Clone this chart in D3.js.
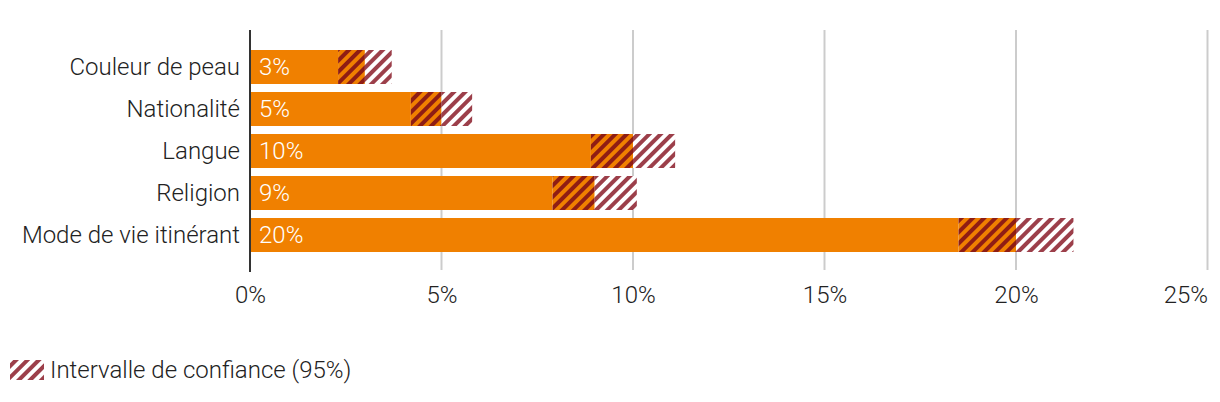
<!DOCTYPE html>
<html><head><meta charset="utf-8">
<script src="https://cdn.jsdelivr.net/npm/d3@7"></script>
<style>
body{margin:0;background:#fff;}
text{font-family:Roboto,sans-serif;font-weight:300;}
</style></head>
<body>
<svg id="c" width="1220" height="402"></svg>
<script>
const categories = ["Couleur de peau","Nationalité","Langue","Religion","Mode de vie itinérant"];
const values = [3.0, 5.0, 10.0, 9.0, 20.0];
const labels = ["3%","5%","10%","9%","20%"];
const ciLow = [2.3, 4.2, 8.9, 7.9, 18.5];
const ciHigh = [3.7, 5.8, 11.1, 10.1, 21.5];
const xTicks = [0,5,10,15,20,25];
const legendLabel = "Intervalle de confiance (95%)";

const FS = 24;
const svg = d3.select("#c");
const defs = svg.append("defs");
function hatch(id, bg, fg){
  const p = defs.append("pattern").attr("id", id).attr("patternUnits","userSpaceOnUse")
    .attr("width", 8).attr("height", 8).attr("patternTransform","rotate(45)");
  if (bg) p.append("rect").attr("width",8).attr("height",8).attr("fill",bg);
  p.append("rect").attr("x",0).attr("y",0).attr("width",4).attr("height",8).attr("fill",fg);
}
hatch("hOr", "#f08000", "#8f1d14");
hatch("hWh", "#ffffff", "#9c3f4a");

const x = d3.scaleLinear().domain([0,25]).range([250,1207.5]);
const y = d3.scaleBand().domain(categories).range([50,252]).paddingInner(8/42).paddingOuter(0);

// gridlines
svg.append("g").selectAll("line").data(xTicks.slice(1)).join("line")
  .attr("x1", d=>x(d)).attr("x2", d=>x(d)).attr("y1",30).attr("y2",270)
  .attr("stroke","#cccccc").attr("stroke-width",2);

const g = svg.append("g");
g.selectAll("rect.s").data(categories).join("rect")
  .attr("x", x(0)+1).attr("y", d=>y(d)).attr("height", y.bandwidth())
  .attr("width", (d,i)=>x(ciLow[i])-x(0)-1).attr("fill","#f08000");
g.selectAll("rect.h1").data(categories).join("rect")
  .attr("x", (d,i)=>x(ciLow[i])).attr("y", d=>y(d)).attr("height", y.bandwidth())
  .attr("width", (d,i)=>x(values[i])-x(ciLow[i])).attr("fill","url(#hOr)");
g.selectAll("rect.h2").data(categories).join("rect")
  .attr("x", (d,i)=>x(values[i])).attr("y", d=>y(d)).attr("height", y.bandwidth())
  .attr("width", (d,i)=>x(ciHigh[i])-x(values[i])).attr("fill","url(#hWh)");
g.selectAll("text.v").data(categories).join("text")
  .attr("x", x(0)+9).attr("y", d=>y(d)+y.bandwidth()/2).attr("dy","0.35em")
  .attr("fill","#fff").attr("font-size",FS).text((d,i)=>labels[i]);

// y axis
const ya = svg.append("g").attr("transform",`translate(${x(0)},0)`)
  .call(d3.axisLeft(y).tickSize(0).tickPadding(10));
ya.select(".domain").remove();
ya.selectAll("text").attr("font-size",FS).attr("fill","#222").style("font-family","Roboto").style("font-weight",300);
svg.append("line").attr("x1",x(0)).attr("x2",x(0)).attr("y1",30).attr("y2",272)
  .attr("stroke","#333").attr("stroke-width",2);

// x axis
const xa = svg.append("g").attr("transform","translate(0,272)")
  .call(d3.axisBottom(x).tickValues(xTicks).tickSize(0).tickPadding(14).tickFormat(d=>d+"%"));
xa.select(".domain").remove();
xa.selectAll("text").attr("font-size",FS).attr("fill","#222").style("font-family","Roboto").style("font-weight",300)
  .attr("text-anchor", d=> d===25 ? "end" : "middle");

// legend
svg.append("rect").attr("x",10).attr("y",360).attr("width",34).attr("height",20).attr("fill","url(#hWh)");
svg.append("text").attr("x",50).attr("y",370).attr("dy","0.35em").attr("font-size",FS).attr("fill","#222").text(legendLabel);
</script>
</body></html>
